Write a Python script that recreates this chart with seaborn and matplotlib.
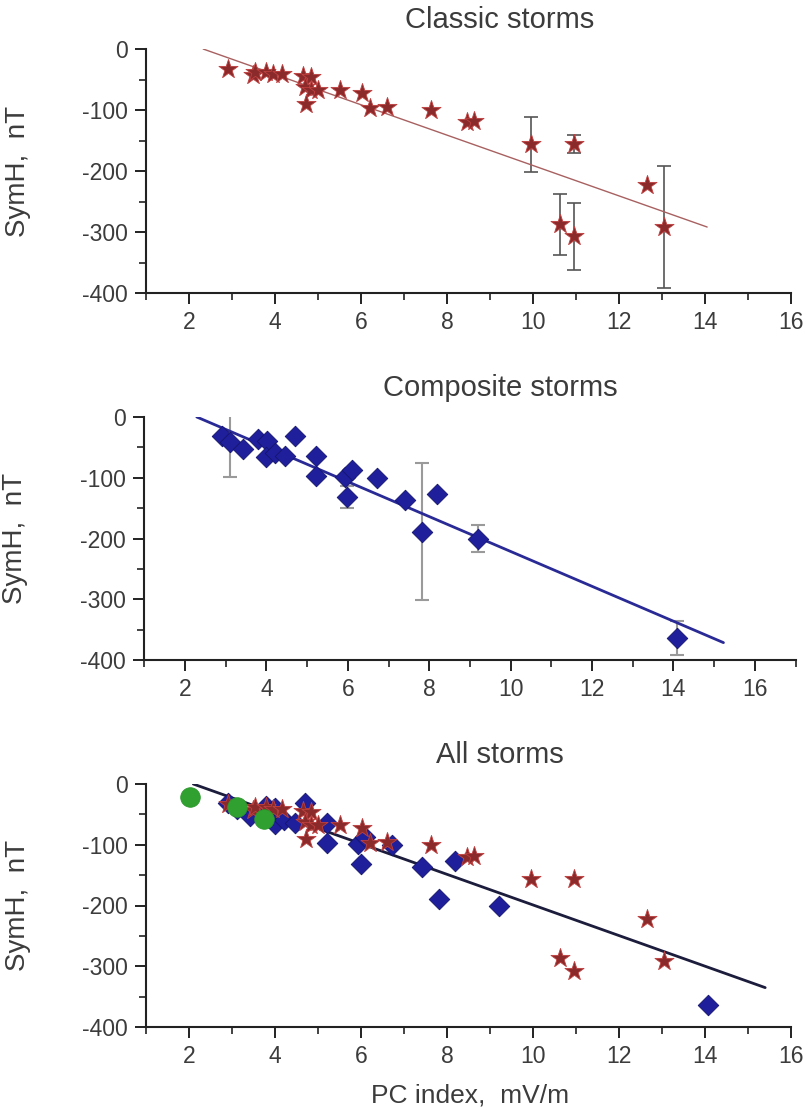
import numpy as np
import pandas as pd
import matplotlib
matplotlib.use("Agg")
import matplotlib.pyplot as plt
from matplotlib.ticker import MultipleLocator
import seaborn as sns

# classic storms (stars)
classic_pc = [2.91, 3.49, 3.53, 3.79, 3.95, 4.16, 4.65, 4.84, 4.70, 4.84, 5.00, 4.72,
              5.51, 6.02, 6.21, 6.60, 7.63, 8.47, 8.63, 9.95, 10.95, 10.63, 10.95, 12.65, 13.05]
classic_symh = [-33, -43, -38, -38, -41, -41, -44, -46, -62, -67, -67, -90,
                -67, -72, -97, -95, -100, -120, -118, -156, -156, -287, -307, -223, -291]
classic_err = [0, 0, 0, 0, 0, 0, 0, 0, 0, 0, 0, 0,
               0, 0, 0, 0, 0, 0, 0, 45, 15, 50, 55, 0, 100]

# composite storms (diamonds)
comp_pc = [2.90, 3.11, 3.43, 3.80, 4.01, 3.99, 4.21, 4.46, 4.70, 5.21, 5.21, 5.93,
           6.10, 5.99, 6.71, 7.41, 8.18, 7.82, 9.21, 14.08]
comp_symh = [-32, -41, -53, -37, -39, -66, -60, -64, -31, -65, -97, -99,
             -88, -132, -100, -136, -127, -189, -200, -363]
comp_err = [0, 58, 0, 0, 0, 0, 0, 0, 0, 0, 0, 0,
            0, 18, 0, 0, 0, 113, 23, 28]

# extra events (green circles, bottom panel)
extra_pc = [2.02, 3.11, 3.74]
extra_symh = [-22, -38, -57]

# linear fits: intercept, slope, x-range
fit_classic = (58.0, -24.9, 2.33, 14.05)
fit_comp = (65.7, -28.7, 2.29, 15.23)
fit_all = (52.9, -25.2, 2.10, 15.40)

titles = ["Classic storms", "Composite storms", "All storms"]

classic = pd.DataFrame({"pc": classic_pc, "symh": classic_symh, "err": classic_err})
comp = pd.DataFrame({"pc": comp_pc, "symh": comp_symh, "err": comp_err})
extra = pd.DataFrame({"pc": extra_pc, "symh": extra_symh})

sns.set_style("ticks")
plt.rcParams["font.family"] = ["Liberation Sans", "DejaVu Sans"]
plt.rcParams["axes.unicode_minus"] = False
txt = "#3c3c3c"

STAR_FC, STAR_EC = "#8b2a2a", "#c04040"
DIA_C = "#1f1f9c"


def stars(ax, df, errs=True):
    if errs:
        e = df[df.err > 0]
        ax.errorbar(e.pc, e.symh, yerr=e.err, fmt="none", ecolor="#555555",
                    elinewidth=1.2, capsize=5, capthick=1.2, zorder=2)
    sns.scatterplot(data=df, x="pc", y="symh", marker="*", s=210, color=STAR_FC,
                    edgecolor=STAR_EC, linewidth=0.6, ax=ax, zorder=4, clip_on=False)


def diamonds(ax, df, errs=True):
    if errs:
        e = df[df.err > 0]
        ax.errorbar(e.pc, e.symh, yerr=e.err, fmt="none", ecolor="#9a9a9a",
                    elinewidth=1.5, capsize=5, capthick=1.5, zorder=2)
    sns.scatterplot(data=df, x="pc", y="symh", marker="D", s=110, color=DIA_C,
                    edgecolor="#14146e", linewidth=0.6, ax=ax, zorder=3, clip_on=False)


def fit_line(ax, fit, color, lw):
    a, b, x0, x1 = fit
    xs = np.array([x0, x1])
    sns.lineplot(x=xs, y=a + b * xs, color=color, lw=lw, ax=ax, zorder=3)


def style(ax, xmax):
    ax.set_xlim(1, xmax)
    ax.set_ylim(-400, 0)
    ax.set_xticks(np.arange(2, xmax + 0.1, 2))
    ax.set_yticks(np.arange(-400, 1, 100))
    ax.xaxis.set_minor_locator(MultipleLocator(1))
    ax.yaxis.set_minor_locator(MultipleLocator(50))
    ax.tick_params(which="major", length=8, width=1.4, labelsize=16.5, colors="#222222",
                   labelcolor=txt, pad=5)
    ax.tick_params(which="minor", length=5, width=1.2, colors="#222222")
    for s in ["top", "right"]:
        ax.spines[s].set_visible(False)
    for s in ["left", "bottom"]:
        ax.spines[s].set_linewidth(1.5)
        ax.spines[s].set_color("#222222")
    ax.set_xlabel("")
    ax.set_ylabel("SymH,  nT", fontsize=20, color=txt)
    ax.yaxis.set_label_coords(-0.178, 0.5)


W, H = 809, 1116
fig = plt.figure(figsize=(W / 100, H / 100), dpi=100)

# (left px, top px, bottom px, px per unit, xmax)
layout = [(146, 49, 293, 43.0, 16), (144.3, 417, 660, 40.7, 17), (146, 784, 1027, 43.0, 16)]
axes = []
for left, top, bot, ppu, xmax in layout:
    width = ppu * (xmax - 1)
    ax = fig.add_axes([left / W, 1 - bot / H, width / W, (bot - top) / H])
    axes.append(ax)

ax1, ax2, ax3 = axes

fit_line(ax1, fit_classic, "#a86060", 1.0)
stars(ax1, classic)
style(ax1, 16)

fit_line(ax2, fit_comp, "#2a2a96", 2.0)
diamonds(ax2, comp)
style(ax2, 17)

fit_line(ax3, fit_all, "#1c1c3c", 2.0)
stars(ax3, classic, errs=False)
diamonds(ax3, comp, errs=False)
sns.scatterplot(data=extra, x="pc", y="symh", marker="o", s=200, color="#30a030",
                edgecolor="#2a962a", linewidth=0.5, ax=ax3, zorder=5, clip_on=False)
style(ax3, 16)

for ax in axes:
    leg = ax.get_legend()
    if leg:
        leg.remove()

for t, y in zip(titles, [20, 388, 755]):
    fig.text(500 / W, 1 - y / H, t, ha="center", va="center", fontsize=21, color=txt)
fig.text(470 / W, 1 - 1096 / H, "PC index,  mV/m", ha="center", va="center",
         fontsize=19, color=txt)

fig.savefig("out.png", dpi=100)
